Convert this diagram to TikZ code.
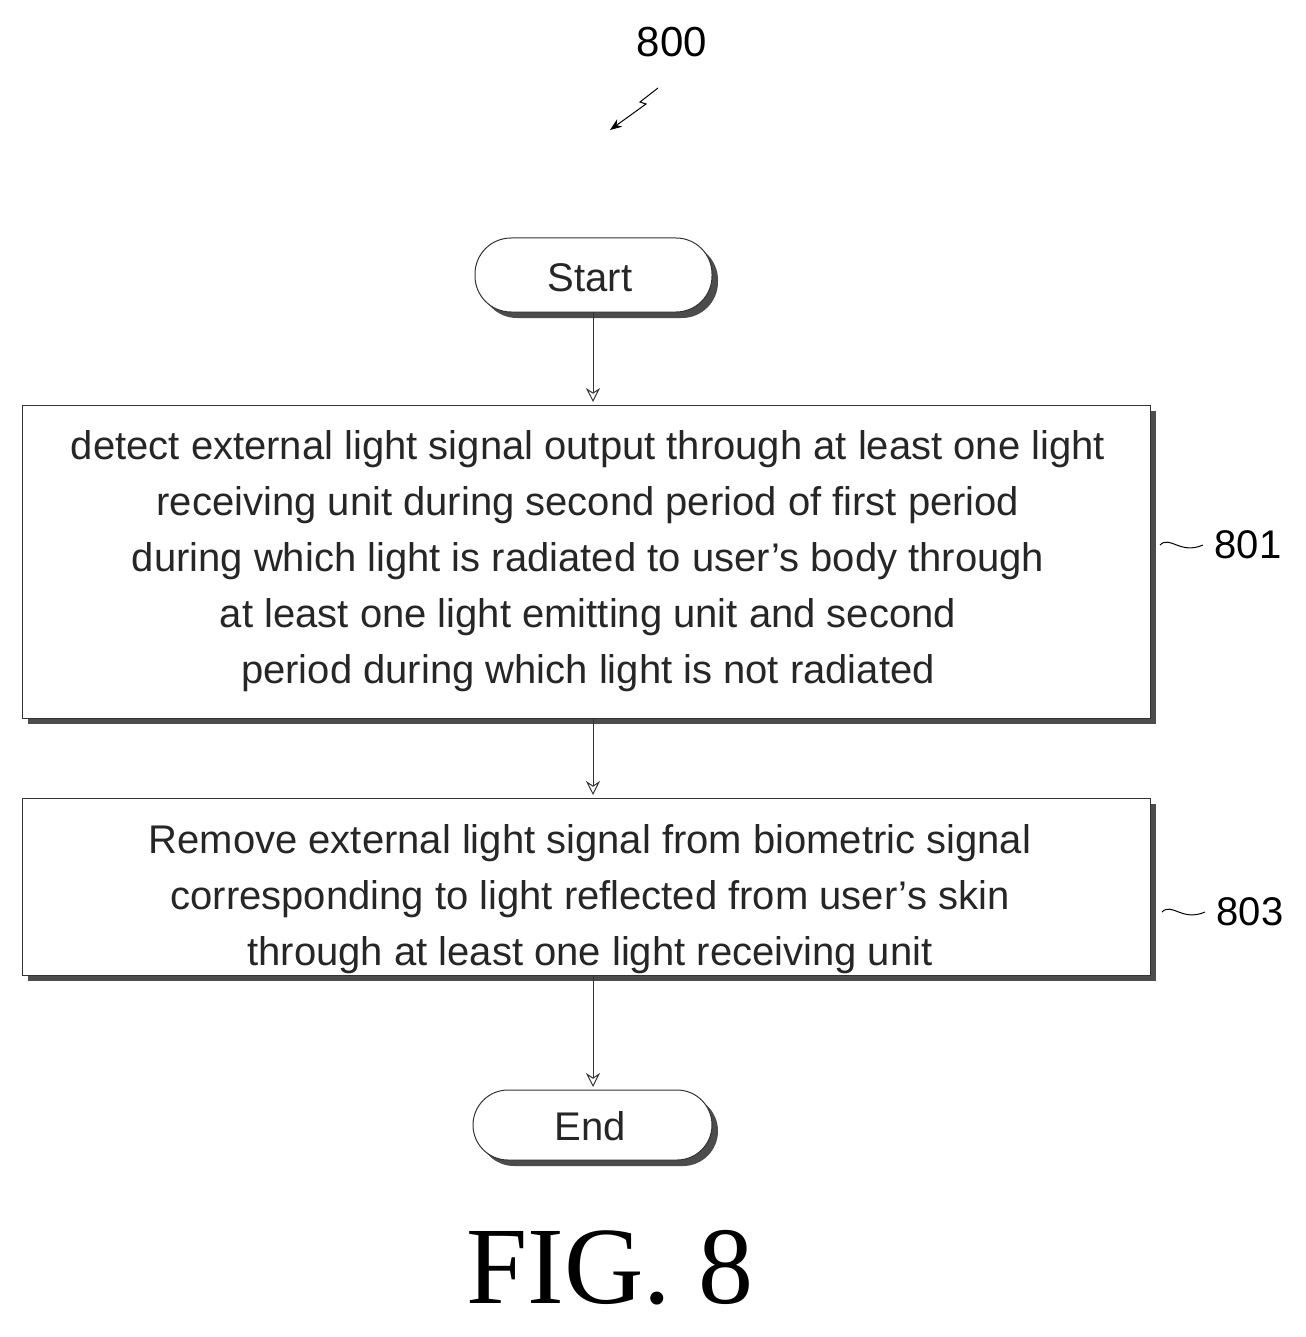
\documentclass[tikz,border=0pt]{standalone}
\usepackage{fontspec}
\setmainfont{Liberation Sans}
\newfontfamily\figfont{Liberation Serif}
\usetikzlibrary{arrows.meta,decorations.pathmorphing}
\begin{document}
\begin{tikzpicture}[x=1pt,y=-1pt,
  sh/.style={fill=black!70},
  box/.style={draw=black!80,line width=1pt,fill=white},
  txt/.style={font=\fontsize{40}{56}\selectfont,align=center,text=black!85},
  arr/.style={draw=black!80,line width=1pt,-{Stealth[length=14pt,width=14pt,open]}}]
\useasboundingbox (0,0) rectangle (1305,1337);
\node[font=\fontsize{42}{42}\selectfont] (n800) at (672,42) {800};
\draw[line width=1pt,-{Stealth[length=12pt]}] (658,88) -- (640,102) -- (646,104) -- (610,130);
% Start
\fill[sh,rounded corners=36pt] (481,244) rectangle (718,318);
\draw[box,rounded corners=36pt] (475,238) rectangle (712,312);
\node[txt] (start) at (590,278) {Start};
% Box1
\fill[sh] (28,411) rectangle (1156,724);
\draw[box] (22,405) rectangle (1150,718);
\node[txt] (b1) at (588,561) {detect external light signal output through at least one light\\receiving unit during second period of first period\\during which light is radiated to user's body through\\at least one light emitting unit and second\\period during which light is not radiated};
% Box2
\fill[sh] (28,804) rectangle (1156,981);
\draw[box] (22,798) rectangle (1150,975);
\node[txt] (b2) at (590,899) {Remove external light signal from biometric signal\\corresponding to light reflected from user's skin\\through at least one light receiving unit};
% End
\fill[sh,rounded corners=35pt] (479,1096) rectangle (718,1166);
\draw[box,rounded corners=35pt] (473,1090) rectangle (712,1160);
\node[txt] (end) at (590,1126) {End};
% arrows
\coordinate (a1) at (593,312); \coordinate (a2) at (593,402);
\coordinate (a3) at (593,718); \coordinate (a4) at (593,795);
\coordinate (a5) at (593,975); \coordinate (a6) at (593,1087);
\draw[arr] (a1) -- (a2);
\draw[arr] (a3) -- (a4);
\draw[arr] (a5) -- (a6);
% labels
\node[font=\fontsize{40}{40}\selectfont] (l801) at (1248,545) {801};
\draw[line width=1pt] (1160,545) .. controls (1170,535) and (1180,555) .. (1203,545);
\node[font=\fontsize{40}{40}\selectfont] (l803) at (1250,912) {803};
\draw[line width=1pt] (1162,912) .. controls (1172,902) and (1182,922) .. (1205,912);
\node[font=\figfont\fontsize{110}{110}\selectfont] (fig) at (610,1268) {FIG. 8};
\end{tikzpicture}
\end{document}
